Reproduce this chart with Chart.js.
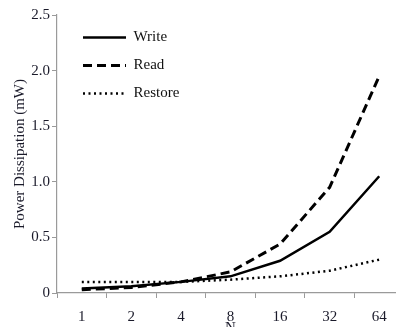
<!DOCTYPE html>
<html>
<head>
<meta charset="utf-8">
<script src="https://cdn.jsdelivr.net/npm/chart.js@4/dist/chart.umd.min.js"></script>
<style>
  html, body { margin: 0; padding: 0; background: #fff; overflow: hidden; }
  #wrap { width: 396px; height: 327px; overflow: hidden; }
</style>
</head>
<body>
<div id="wrap"><canvas id="power-chart" width="404" height="340"></canvas></div>
<script>
// values
var nLabels = ['1', '2', '4', '8', '16', '32', '64'];
var writePower = [0.04, 0.06, 0.10, 0.15, 0.29, 0.55, 1.05];
var readPower = [0.03, 0.05, 0.10, 0.19, 0.44, 0.95, 1.95];
var restorePower = [0.10, 0.10, 0.10, 0.12, 0.15, 0.20, 0.30];
var yTicks = [0, 0.5, 1.0, 1.5, 2.0, 2.5];

var serif = '"Liberation Serif", "Times New Roman", serif';
var axisGray = '#9a9a9a';

// push the legend away from the axes, like in the original
var legendShift = {
    id: 'legendShift',
    afterLayout: function(chart) {
        var l = chart.legend;
        l.left += 13;
        l.right += 13;
        l.top += 17;
        l.bottom += 17;
    }
};

function lineSet(label, data, dash, width) {
    return {
        label: label,
        data: data,
        borderColor: '#000',
        backgroundColor: '#000',
        borderWidth: width,
        borderDash: dash,
        pointRadius: 0,
        pointStyle: 'line',
        tension: 0,
        fill: false
    };
}

var ctx = document.getElementById('power-chart').getContext('2d');
var powerChart = new Chart(ctx, {
    type: 'line',
    data: {
        labels: nLabels,
        datasets: [
            lineSet('Write', writePower, [], 2.5),
            lineSet('Read', readPower, [9, 5], 3),
            lineSet('Restore', restorePower, [2, 3.5], 2.5)
        ]
    },
    options: {
        responsive: false,
        animation: false,
        layout: { padding: { top: 15, right: 0, bottom: 0, left: 0 } },
        plugins: {
            legend: {
                position: 'chartArea',
                align: 'start',
                labels: {
                    usePointStyle: true,
                    pointStyleWidth: 43,
                    padding: 13,
                    color: '#111',
                    font: { family: serif, size: 15 },
                    generateLabels: function(chart) {
                        var items = Chart.defaults.plugins.legend.labels.generateLabels(chart);
                        items.forEach(function(it) {
                            var ds = chart.data.datasets[it.datasetIndex];
                            it.lineDash = ds.borderDash;
                            it.lineWidth = ds.borderWidth;
                            it.strokeStyle = ds.borderColor;
                        });
                        return items;
                    }
                }
            },
            tooltip: { enabled: false }
        },
        scales: {
            x: {
                offset: true,
                afterFit: function(scale) { scale.height = 47; },
                grid: { drawOnChartArea: false, offset: true, tickLength: 5, color: axisGray },
                border: { color: axisGray, width: 1.2 },
                ticks: { padding: 10, color: '#1a1a2a', font: { family: serif, size: 15 } },
                title: {
                    display: true,
                    text: 'N',
                    color: '#1a1a2a',
                    padding: { top: 0, bottom: 3 },
                    font: { family: serif, size: 15 }
                }
            },
            y: {
                min: 0,
                max: 2.5,
                afterFit: function(scale) { scale.width = 57; },
                afterBuildTicks: function(scale) {
                    scale.ticks = yTicks.map(function(v) { return { value: v }; });
                },
                grid: { drawOnChartArea: false, tickLength: 5, color: axisGray },
                border: { color: axisGray, width: 1.2 },
                ticks: {
                    padding: 2,
                    color: '#1a1a2a',
                    font: { family: serif, size: 15 },
                    callback: function(v) { return v === 0 ? '0' : v.toFixed(1); }
                },
                title: {
                    display: true,
                    text: 'Power Dissipation (mW)',
                    color: '#1a1a2a',
                    padding: { top: 11, bottom: 0 },
                    font: { family: serif, size: 15 }
                }
            }
        }
    },
    plugins: [legendShift]
});
</script>
</body>
</html>
